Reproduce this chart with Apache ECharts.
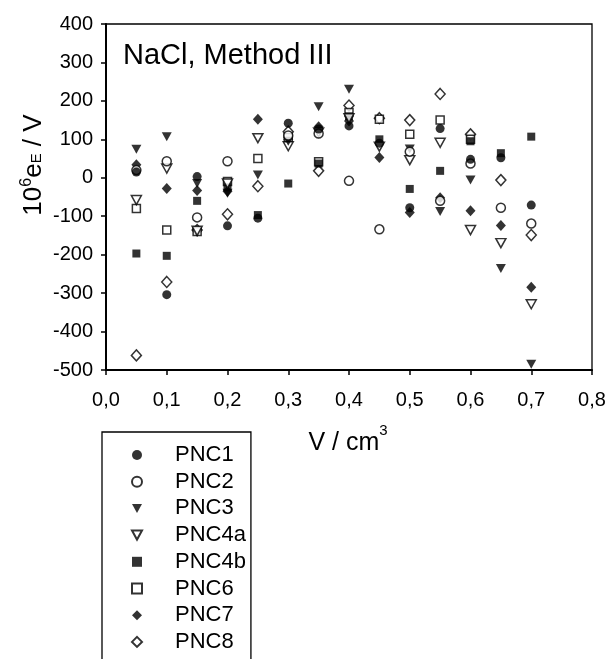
<!DOCTYPE html>
<html>
<head>
<meta charset="utf-8">
<script src="https://cdn.jsdelivr.net/npm/echarts@6/dist/echarts.min.js"></script>
<style>
html,body{margin:0;padding:0;background:#fff;}
#chart{width:608px;height:659px;}
</style>
</head>
<body>
<div id="chart"></div>
<script>
// ---- data ----
const volumes = [0.05, 0.10, 0.15, 0.20, 0.25, 0.30, 0.35, 0.40, 0.45, 0.50, 0.55, 0.60, 0.65, 0.70];
const seriesNames = ['PNC1', 'PNC2', 'PNC3', 'PNC4a', 'PNC4b', 'PNC6', 'PNC7', 'PNC8'];
const pnc1  = [15, -304, 3, -125, -105, 142, 127, 135, 90, -78, 128, 48, 52, -71];
const pnc2  = [20, 43, -103, 43, null, 110, 115, -8, -134, 68, -60, 37, -78, -119];
const pnc3  = [74, 107, -15, -40, 7, 95, 185, 230, null, 75, -88, -6, -236, -485];
const pnc4a = [-58, 24, -138, -15, 103, 82, 118, 155, 81, 46, 91, -136, -170, -329];
const pnc4b = [-197, -203, -60, -25, -97, -15, 37, 160, 100, -29, 18, 95, 64, 107];
const pnc6  = [-80, -136, -140, -10, 50, 105, 42, 170, 152, 113, 150, 100, null, null];
const pnc7  = [34, -28, -33, -35, 152, 100, 133, 148, 53, -90, -52, -86, -124, -285];
const pnc8  = [-462, -271, -136, -95, -22, 120, 18, 188, 155, 150, 218, 113, -6, -149];
const xTicks = { min: 0, max: 0.8, step: 0.1 };
const yTicks = { min: -500, max: 400, step: 100 };

const allValues = [pnc1, pnc2, pnc3, pnc4a, pnc4b, pnc6, pnc7, pnc8];

// ---- styles ----
const FONT = '"Liberation Sans", Arial, Helvetica, sans-serif';
const filled = { color: '#000', borderColor: '#000', borderWidth: 0 };
const hollow = { color: '#fff', borderColor: '#000', borderWidth: 1.5 };
const DOWN_TRI = 'path://M0,0 L10,0 L5,9 Z';
const markerStyles = [
  { symbol: 'circle', symbolSize: 9, itemStyle: filled },
  { symbol: 'circle', symbolSize: 9, itemStyle: hollow },
  { symbol: 'triangle', symbolSize: [10, 9], symbolRotate: 180, itemStyle: filled },
  { symbol: 'triangle', symbolSize: [10, 9], symbolRotate: 180, itemStyle: hollow },
  { symbol: 'rect', symbolSize: 8, itemStyle: filled },
  { symbol: 'rect', symbolSize: 8, itemStyle: hollow },
  { symbol: 'diamond', symbolSize: [10, 11], itemStyle: filled },
  { symbol: 'diamond', symbolSize: [10, 11], itemStyle: hollow }
];
const legendIcons = ['circle', 'circle', DOWN_TRI, DOWN_TRI, 'rect', 'rect', 'diamond', 'diamond'];

const series = seriesNames.map((name, k) => {
  const vals = allValues[k];
  const data = [];
  volumes.forEach((v, i) => { if (vals[i] !== null) data.push([v, vals[i]]); });
  return Object.assign({
    name: name,
    type: 'scatter',
    data: data,
    emphasis: { disabled: true },
    z: 10 - k
  }, markerStyles[k]);
});

const chart = echarts.init(document.getElementById('chart'), null, { renderer: 'canvas' });
chart.setOption({
  backgroundColor: '#fff',
  animation: false,
  title: {
    text: 'NaCl, Method III',
    left: 123, top: 41, padding: 0,
    textStyle: { fontFamily: FONT, fontSize: 29, fontWeight: 'normal', color: '#000' }
  },
  grid: {
    left: 106, right: 16, top: 24, bottom: 289,
    show: true, borderColor: '#000', borderWidth: 1.3, backgroundColor: 'transparent',
    containLabel: false, outerBoundsMode: 'none'
  },
  xAxis: {
    type: 'value',
    min: xTicks.min, max: xTicks.max, interval: xTicks.step,
    axisLine: { show: true, onZero: false, lineStyle: { color: '#000', width: 2 } },
    axisTick: { show: true, inside: false, length: 5, lineStyle: { color: '#000', width: 1.5 } },
    splitLine: { show: false },
    axisLabel: {
      margin: 20, color: '#000', fontFamily: FONT, fontSize: 20,
      formatter: v => v.toFixed(1).replace('.', ',')
    }
  },
  yAxis: {
    type: 'value',
    min: yTicks.min, max: yTicks.max, interval: yTicks.step,
    axisLine: { show: true, onZero: false, lineStyle: { color: '#000', width: 2 } },
    axisTick: { show: true, inside: false, length: 5, lineStyle: { color: '#000', width: 1.5 } },
    splitLine: { show: false },
    axisLabel: { margin: 13, color: '#000', fontFamily: FONT, fontSize: 20 }
  },
  legend: {
    orient: 'vertical',
    left: 102, top: 432, height: 400, width: 200,
    data: seriesNames.map((n, k) => ({ name: n, icon: legendIcons[k] })),
    selectedMode: false,
    backgroundColor: '#fff',
    borderColor: '#000', borderWidth: 1.3, borderRadius: 0,
    padding: [12, 5, 40, 29],
    itemWidth: 10, itemHeight: 10, itemGap: 4.7,
    textStyle: { fontFamily: FONT, fontSize: 22, color: '#000', lineHeight: 21, padding: [0, 0, 0, 28] }
  },
  graphic: [
    {
      type: 'text',
      x: 31.4, y: 165,
      rotation: Math.PI / 2,
      style: {
        text: '{n|10}{sup|6}{n|e}{sub|E}{n| / V}',
        align: 'center', verticalAlign: 'middle',
        fill: '#000',
        rich: {
          n: { fontFamily: FONT, fontSize: 26, lineHeight: 26, padding: [4, 0, 0, 0], fill: '#000' },
          sup: { fontFamily: FONT, fontSize: 16, lineHeight: 16, verticalAlign: 'top', fill: '#000' },
          sub: { fontFamily: FONT, fontSize: 15, lineHeight: 15, verticalAlign: 'bottom', fill: '#000' }
        }
      }
    },
    {
      type: 'text',
      x: 348, y: 436,
      style: {
        text: '{n|V / cm}{sup|3}',
        align: 'center', verticalAlign: 'middle',
        fill: '#000',
        rich: {
          n: { fontFamily: FONT, fontSize: 25, lineHeight: 25, padding: [15, 0, 0, 0], fill: '#000' },
          sup: { fontFamily: FONT, fontSize: 15, lineHeight: 15, verticalAlign: 'top', fill: '#000' }
        }
      }
    }
  ],
  series: series
});
</script>
</body>
</html>
